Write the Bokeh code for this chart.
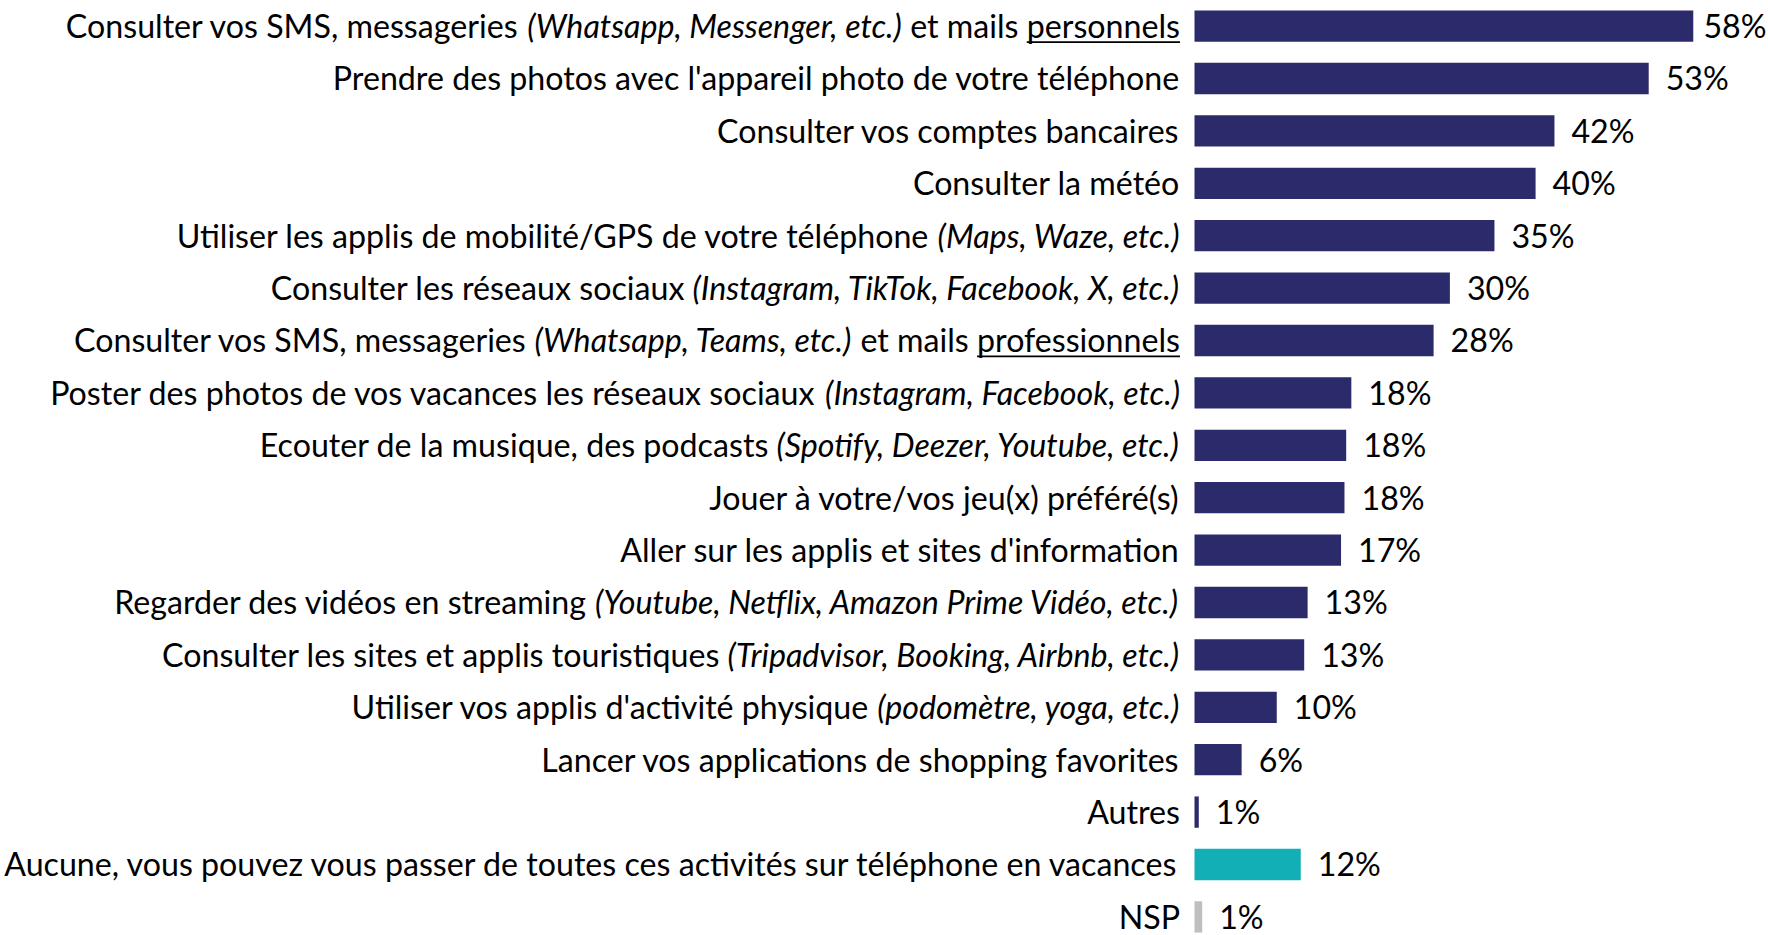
import os
import glob
import struct
import subprocess

from bokeh.plotting import figure
from bokeh.models import Range1d, ColumnDataSource
from bokeh.core.properties import value
from bokeh.embed import file_html
from bokeh.resources import INLINE

# ---------------- data ----------------
# each category is a list of (text, style) pieces: n = normal, i = italic, u = underlined
categories = [
    [("Consulter vos SMS, messageries ", "n"), ("(Whatsapp, Messenger, etc.)", "i"), (" et mails ", "n"), ("personnels", "u")],
    [("Prendre des photos avec l'appareil photo de votre téléphone", "n")],
    [("Consulter vos comptes bancaires", "n")],
    [("Consulter la météo", "n")],
    [("Utiliser les applis de mobilité/GPS de votre téléphone ", "n"), ("(Maps, Waze, etc.)", "i")],
    [("Consulter les réseaux sociaux ", "n"), ("(Instagram, TikTok, Facebook, X, etc.)", "i")],
    [("Consulter vos SMS, messageries ", "n"), ("(Whatsapp, Teams, etc.)", "i"), (" et mails ", "n"), ("professionnels", "u")],
    [("Poster des photos de vos vacances les réseaux sociaux ", "n"), ("(Instagram, Facebook, etc.)", "i")],
    [("Ecouter de la musique, des podcasts ", "n"), ("(Spotify, Deezer, Youtube, etc.)", "i")],
    [("Jouer à votre/vos jeu(x) préféré(s)", "n")],
    [("Aller sur les applis et sites d'information", "n")],
    [("Regarder des vidéos en streaming ", "n"), ("(Youtube, Netflix, Amazon Prime Vidéo, etc.)", "i")],
    [("Consulter les sites et applis touristiques ", "n"), ("(Tripadvisor, Booking, Airbnb, etc.)", "i")],
    [("Utiliser vos applis d'activité physique ", "n"), ("(podomètre, yoga, etc.)", "i")],
    [("Lancer vos applications de shopping favorites", "n")],
    [("Autres", "n")],
    [("Aucune, vous pouvez vous passer de toutes ces activités sur téléphone en vacances", "n")],
    [("NSP", "n")],
]
values = [58.2, 53.0, 42.0, 39.8, 35.0, 29.8, 27.9, 18.3, 17.7, 17.5, 17.1, 13.2, 12.8, 9.6, 5.5, 0.5, 12.4, 0.9]
value_labels = ["58%", "53%", "42%", "40%", "35%", "30%", "28%", "18%", "18%", "18%",
                "17%", "13%", "13%", "10%", "6%", "1%", "12%", "1%"]
groups = ["activite"] * 16 + ["aucune", "nsp"]
group_colors = {"activite": "#2B2A6B", "aucune": "#13AFB7", "nsp": "#BFBFBF"}

# ---------------- layout ----------------
W, H = 1768, 935
FONT = "Lato"
ORIGIN_PX = 1194.0      # bar origin, from left edge of figure
PPU = 8.57              # pixels per percent
ROW0_PX = 25.6          # centre of first row from top
ROW_PX = 52.4           # row pitch
BAR_PX = 31.3           # bar thickness
LABEL_GAP = 14.5        # gap between category label and bar origin
VALUE_GAP = 17.0        # gap between bar end and value label


# ---------------- font metrics (to join normal/italic pieces) ----------------
def _u16(d, o):
    return struct.unpack_from(">H", d, o)[0]


def _s16(d, o):
    return struct.unpack_from(">h", d, o)[0]


def _u32(d, o):
    return struct.unpack_from(">I", d, o)[0]


def _coverage(d, off, g):
    fmt = _u16(d, off)
    if fmt == 1:
        lo, hi = 0, _u16(d, off + 2) - 1
        while lo <= hi:
            mid = (lo + hi) // 2
            v = _u16(d, off + 4 + 2 * mid)
            if v == g:
                return mid
            if v < g:
                lo = mid + 1
            else:
                hi = mid - 1
        return -1
    if fmt == 2:
        for i in range(_u16(d, off + 2)):
            r = off + 4 + 6 * i
            if _u16(d, r) <= g <= _u16(d, r + 2):
                return _u16(d, r + 4) + g - _u16(d, r)
    return -1


def _classdef(d, off, g):
    fmt = _u16(d, off)
    if fmt == 1:
        start, n = _u16(d, off + 2), _u16(d, off + 4)
        if start <= g < start + n:
            return _u16(d, off + 6 + 2 * (g - start))
        return 0
    if fmt == 2:
        for i in range(_u16(d, off + 2)):
            r = off + 4 + 6 * i
            if _u16(d, r) <= g <= _u16(d, r + 2):
                return _u16(d, r + 4)
    return 0


def _vr_size(vf):
    return 2 * bin(vf).count("1")


def _xadv(d, off, vf):
    if not vf & 4:
        return 0
    return _s16(d, off + 2 * bin(vf & 3).count("1"))


class FontMetrics:
    def __init__(self, path):
        d = open(path, "rb").read()
        base = _u32(d, 12) if d[:4] == b"ttcf" else 0
        t = {}
        for i in range(_u16(d, base + 4)):
            rec = base + 12 + 16 * i
            t[d[rec:rec + 4].decode("latin1")] = _u32(d, rec + 8)
        self.d = d
        self.upem = _u16(d, t["head"] + 18)
        nhm = _u16(d, t["hhea"] + 34)
        self.adv = [_u16(d, t["hmtx"] + 4 * i) for i in range(nhm)]
        cm = t["cmap"]
        best = None
        for i in range(_u16(d, cm + 2)):
            pid, eid = _u16(d, cm + 4 + 8 * i), _u16(d, cm + 6 + 8 * i)
            off = cm + _u32(d, cm + 8 + 8 * i)
            fmt = _u16(d, off)
            if fmt in (4, 12) and (pid == 0 or (pid == 3 and eid in (1, 10))):
                if best is None or fmt == 12:
                    best = (fmt, off)
        self.fmt, self.cmoff = best
        self.kern_lookups = []
        self.kcache = {}
        try:
            self._load_kern(t)
        except Exception:
            self.kern_lookups = []

    def _load_kern(self, t):
        d = self.d
        if "GPOS" not in t:
            return
        g = t["GPOS"]
        fl = g + _u16(d, g + 6)
        ll = g + _u16(d, g + 8)
        idx = set()
        for i in range(_u16(d, fl)):
            rec = fl + 2 + 6 * i
            if d[rec:rec + 4] == b"kern":
                ft = fl + _u16(d, rec + 4)
                for j in range(_u16(d, ft + 2)):
                    idx.add(_u16(d, ft + 4 + 2 * j))
        for li in sorted(idx):
            lt = ll + _u16(d, ll + 2 + 2 * li)
            ltype = _u16(d, lt)
            subs = []
            for k in range(_u16(d, lt + 4)):
                st = lt + _u16(d, lt + 6 + 2 * k)
                if ltype == 9:
                    if _u16(d, st + 2) != 2:
                        continue
                    st = st + _u32(d, st + 4)
                elif ltype != 2:
                    continue
                subs.append(st)
            if subs:
                self.kern_lookups.append(subs)

    def kern(self, g1, g2):
        key = (g1, g2)
        if key in self.kcache:
            return self.kcache[key]
        d = self.d
        total = 0
        try:
            for subs in self.kern_lookups:
                for st in subs:
                    fmt = _u16(d, st)
                    ci = _coverage(d, st + _u16(d, st + 2), g1)
                    if ci < 0:
                        continue
                    vf1, vf2 = _u16(d, st + 4), _u16(d, st + 6)
                    s1, s2 = _vr_size(vf1), _vr_size(vf2)
                    if fmt == 1:
                        if ci >= _u16(d, st + 8):
                            continue
                        ps = st + _u16(d, st + 10 + 2 * ci)
                        rs = 2 + s1 + s2
                        found = False
                        for r in range(_u16(d, ps)):
                            ro = ps + 2 + rs * r
                            if _u16(d, ro) == g2:
                                total += _xadv(d, ro + 2, vf1)
                                found = True
                                break
                        if found:
                            break
                    elif fmt == 2:
                        c1 = _classdef(d, st + _u16(d, st + 8), g1)
                        c2 = _classdef(d, st + _u16(d, st + 10), g2)
                        n1, n2 = _u16(d, st + 12), _u16(d, st + 14)
                        if c1 < n1 and c2 < n2:
                            total += _xadv(d, st + 16 + (c1 * n2 + c2) * (s1 + s2), vf1)
                        break
        except Exception:
            total = 0
        self.kcache[key] = total
        return total

    def gid(self, c):
        cp, d, off = ord(c), self.d, self.cmoff
        if self.fmt == 12:
            for g in range(_u32(d, off + 12)):
                r = off + 16 + 12 * g
                s, e, sg = _u32(d, r), _u32(d, r + 4), _u32(d, r + 8)
                if s <= cp <= e:
                    return sg + cp - s
            return 0
        segx2 = _u16(d, off + 6)
        ends = off + 14
        starts = ends + segx2 + 2
        deltas = starts + segx2
        ranges = deltas + segx2
        for s in range(segx2 // 2):
            if cp <= _u16(d, ends + 2 * s):
                st = _u16(d, starts + 2 * s)
                if cp < st:
                    return 0
                dl = _u16(d, deltas + 2 * s)
                ro = _u16(d, ranges + 2 * s)
                if ro == 0:
                    return (cp + dl) & 0xFFFF
                g = _u16(d, ranges + 2 * s + ro + 2 * (cp - st))
                return (g + dl) & 0xFFFF if g else 0
        return 0

    def width(self, s, size):
        gids = [self.gid(c) for c in s]
        tot = sum(self.adv[min(g, len(self.adv) - 1)] for g in gids)
        if self.kern_lookups:
            tot += sum(self.kern(a, b) for a, b in zip(gids, gids[1:]))
        return tot * size / self.upem


class ApproxMetrics:
    def width(self, s, size):
        return len(s) * 0.48 * size


def find_font(family, style):
    try:
        r = subprocess.run(["fc-match", "-f", "%{file}", f"{family}:style={style}"],
                           capture_output=True, text=True, timeout=10)
        f = r.stdout.strip()
        if f and os.path.isfile(f) and family.split()[0].lower() in os.path.basename(f).lower():
            return f
    except Exception:
        pass
    name = f"{family.replace(' ', '')}-{style}"
    for root in ("/usr/share/fonts", "/usr/local/share/fonts",
                 os.path.expanduser("~/.fonts"), os.path.expanduser("~/.local/share/fonts")):
        for ext in ("ttf", "otf", "ttc"):
            hits = glob.glob(os.path.join(root, "**", name + "." + ext), recursive=True)
            if hits:
                return hits[0]
    return None


def load_metrics(style):
    try:
        f = find_font(FONT, style)
        if f:
            return FontMetrics(f)
    except Exception:
        pass
    return ApproxMetrics()


m_norm = load_metrics("Regular")
m_ital = load_metrics("Italic")


def piece_width(text, style, size):
    return (m_ital if style == "i" else m_norm).width(text, size)


def label_width(cat, size):
    return sum(piece_width(t, s, size) for t, s in cat)


# font size chosen so the two longest labels span the same width as in the reference
FS = (1118.5 + 1166.0) / (label_width(categories[0], 1.0) + label_width(categories[16], 1.0))
CAP = 0.7165 * FS
BASE_DY = 0.8 + CAP / 2.0    # wanted baseline below row centre (px)
TEXT_SHIFT = 0.40 * FS       # bokeh draws "alphabetic" text this much lower in svg
SPACE_W = m_norm.width(" ", FS)

# ---------------- figure ----------------
x_start = -ORIGIN_PX / PPU
x_end = (W - ORIGIN_PX) / PPU
y_top = -ROW0_PX / ROW_PX
y_bottom = (H - ROW0_PX) / ROW_PX

p = figure(width=W, height=H, x_range=Range1d(x_start, x_end), y_range=Range1d(y_bottom, y_top),
           output_backend="svg", toolbar_location=None, min_border=0,
           x_axis_location=None, y_axis_location=None)
p.grid.visible = False
p.outline_line_color = None
p.background_fill_color = "white"
p.border_fill_color = "white"

rows = list(range(len(values)))
bars = ColumnDataSource(dict(y=rows, right=values, color=[group_colors[g] for g in groups]))
p.hbar(y="y", left=0, right="right", height=BAR_PX / ROW_PX, fill_color="color",
       line_color=None, source=bars)

# category labels, built right-to-left from their pieces (spaces handled as gaps)
pieces = {"n": dict(x=[], y=[], text=[]), "i": dict(x=[], y=[], text=[])}
ul = dict(x0=[], x1=[], y=[])
for r, cat in enumerate(categories):
    right_px = -LABEL_GAP
    yb = r + (BASE_DY - TEXT_SHIFT) / ROW_PX
    for text, style in reversed(cat):
        core = text.strip()
        lead = len(text) - len(text.lstrip())
        trail = len(text) - len(text.rstrip())
        right_px -= trail * SPACE_W
        w = piece_width(core, style, FS)
        key = "i" if style == "i" else "n"
        pieces[key]["x"].append(right_px / PPU)
        pieces[key]["y"].append(yb)
        pieces[key]["text"].append(core)
        if style == "u":
            ul["x0"].append((right_px - w) / PPU)
            ul["x1"].append(right_px / PPU)
            ul["y"].append(r + (BASE_DY + 3.6) / ROW_PX)
        right_px -= w
        right_px -= lead * SPACE_W

for key, fstyle in (("n", "normal"), ("i", "italic")):
    p.text(x="x", y="y", text="text", source=ColumnDataSource(pieces[key]),
           text_align="right", text_baseline="alphabetic",
           text_font=value(FONT), text_font_style=fstyle,
           text_font_size=f"{FS:.2f}px", text_color="#000000")

p.segment(x0="x0", y0="y", x1="x1", y1="y", source=ColumnDataSource(ul),
          line_color="#000000", line_width=1.8)

# value labels (gap shrinks only where a label would run past the right edge)
offsets = [min(VALUE_GAP, W - (ORIGIN_PX + v * PPU) - m_norm.width(t, FS) - 2)
           for v, t in zip(values, value_labels)]
vals_src = ColumnDataSource(dict(x=values, y=[r + (BASE_DY - TEXT_SHIFT) / ROW_PX for r in rows],
                                 text=value_labels, off=offsets))
p.text(x="x", y="y", text="text", x_offset="off", source=vals_src,
       text_align="left", text_baseline="alphabetic",
       text_font=value(FONT), text_font_size=f"{FS:.2f}px", text_color="#000000")

open("out.html", "w").write(file_html(p, INLINE))
